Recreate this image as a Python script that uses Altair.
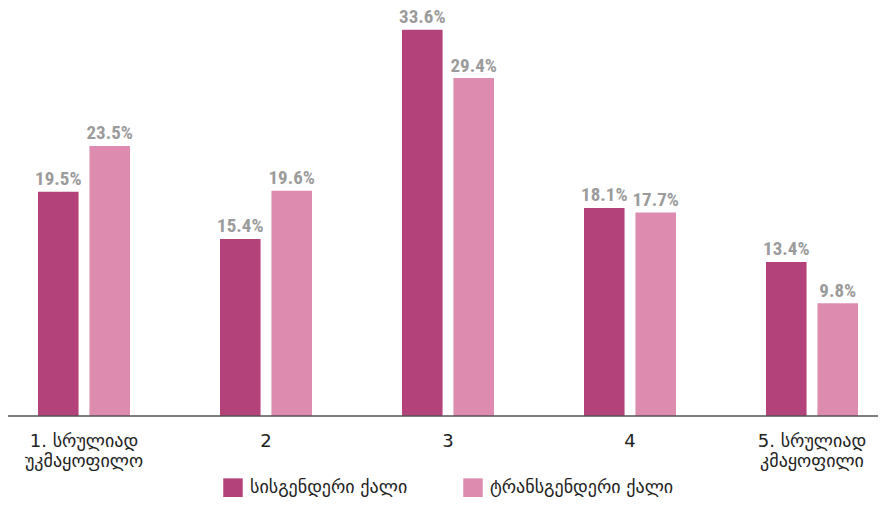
import altair as alt
import pandas as pd

categories = ["1. სრულიად|უკმაყოფილო", "2", "3", "4", "5. სრულიად|კმაყოფილი"]
series = ["სისგენდერი ქალი", "ტრანსგენდერი ქალი"]
cis_values = [19.5, 15.4, 33.6, 18.1, 13.4]
trans_values = [23.5, 19.6, 29.4, 17.7, 9.8]
colors = ["#b3427a", "#de8bb0"]

rows = []
for i, c in enumerate(categories):
    for s, vals in zip(series, [cis_values, trans_values]):
        rows.append({"cat": c, "series": s, "value": vals[i], "label": f"{vals[i]:.1f}%"})
df = pd.DataFrame(rows)

x_enc = alt.X(
    "cat:N",
    sort=categories,
    title=None,
    scale=alt.Scale(range=[-15, 895], paddingInner=0, paddingOuter=0),
    axis=alt.Axis(
        labelExpr="split(datum.label, '|')",
        labelAngle=0,
        labelFont="DejaVu Sans",
        labelFontSize=18,
        labelColor="#222222",
        labelLineHeight=20,
        labelPadding=16,
        labelLimit=300,
        ticks=False,
        domain=False,
        grid=False,
    ),
)
xoff_enc = alt.XOffset(
    "series:N",
    sort=series,
    scale=alt.Scale(range=[45, 137], paddingInner=0.2115, paddingOuter=0),
)
y_enc = alt.Y("value:Q", scale=alt.Scale(domain=[0, 35.15], nice=False), axis=None)

base = alt.Chart(df)

bars = base.mark_bar().encode(
    x=x_enc,
    xOffset=xoff_enc,
    y=y_enc,
    color=alt.Color(
        "series:N",
        sort=series,
        scale=alt.Scale(domain=series, range=colors),
        legend=alt.Legend(
            title=None,
            orient="none",
            legendX=215,
            legendY=466,
            direction="horizontal",
            symbolType="square",
            symbolSize=380,
            symbolStrokeWidth=0,
            symbolOpacity=1,
            labelFont="DejaVu Sans",
            labelFontSize=18,
            labelColor="#222222",
            labelLimit=400,
            columnPadding=55,
            labelOffset=7,
        ),
    ),
)

texts = base.mark_text(
    baseline="bottom",
    align="center",
    dy=-2.5,
    font="Roboto Condensed, Roboto",
    fontWeight="bold",
    fontSize=19,
    color="#9b9b9b",
).encode(x=x_enc, xOffset=xoff_enc, y=y_enc, text="label:N")

axis_line = alt.Chart(pd.DataFrame({"a": [0]})).mark_rule(
    color="#555555", strokeWidth=1.5
).encode(x=alt.value(-1), x2=alt.value(870), y=alt.value(404))

chart = (
    alt.layer(bars, texts, axis_line)
    .properties(
        width=870,
        height=404,
        padding={"left": 0, "top": 4, "right": 0, "bottom": 81},
        autosize=alt.AutoSizeParams(type="none"),
    )
    .configure_view(stroke=None)
)

chart.save("out.html", embed_options={"renderer": "svg", "actions": False})
